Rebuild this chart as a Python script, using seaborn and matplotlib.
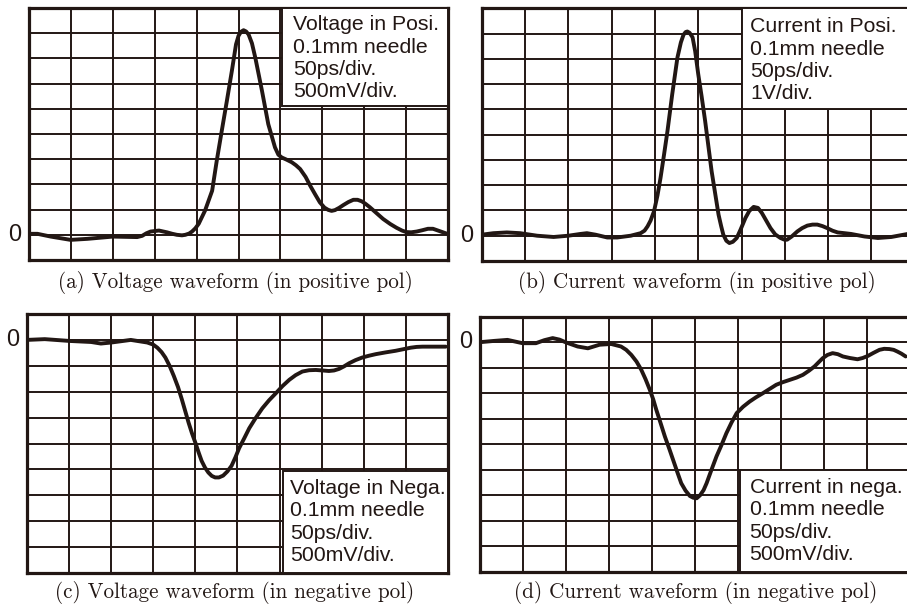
import matplotlib
matplotlib.use("Agg")
import matplotlib.pyplot as plt
from matplotlib.patches import Rectangle
import seaborn as sns

# Oscilloscope traces, in screen divisions (x: 50 ps/div)
a_x = [0.0, 0.2, 0.52, 0.99, 1.39, 2.0, 2.58, 2.7, 2.8, 2.9, 3.1, 3.29, 3.42, 3.53,
       3.65, 3.73, 3.82, 3.89, 3.97, 4.05, 4.2, 4.37, 4.48, 4.6, 4.72, 4.84, 4.94,
       5.0, 5.06, 5.12, 5.18, 5.24, 5.32, 5.4, 5.56, 5.71, 5.87, 5.95, 6.03, 6.15,
       6.27, 6.37, 6.47, 6.6, 6.71, 6.83, 6.94, 7.05, 7.14, 7.22, 7.3, 7.4, 7.5,
       7.62, 7.74, 7.84, 7.94, 8.03, 8.13, 8.3, 8.45, 8.62, 8.77, 8.9, 9.0, 9.12,
       9.25, 9.38, 9.52, 9.64, 9.76, 9.88, 9.98]
a_y = [0.04, 0.04, -0.07, -0.2, -0.16, -0.07, -0.09, -0.04, 0.06, 0.13, 0.17, 0.1,
       0.04, 0.0, -0.02, 0.0, 0.05, 0.13, 0.26, 0.44, 0.96, 1.75, 2.94, 4.13, 5.3,
       6.5, 7.56, 7.9, 8.06, 8.12, 8.07, 7.95, 7.6, 7.03, 5.71, 4.39, 3.47, 3.18,
       3.07, 2.98, 2.88, 2.76, 2.61, 2.3, 1.95, 1.6, 1.29, 1.08, 0.99, 0.95, 0.98,
       1.07, 1.18, 1.3, 1.39, 1.39, 1.33, 1.23, 1.1, 0.85, 0.63, 0.43, 0.28, 0.17,
       0.11, 0.1, 0.13, 0.18, 0.24, 0.24, 0.17, 0.1, 0.04]

b_x = [0.0, 0.27, 0.58, 0.89, 1.28, 1.66, 2.0, 2.28, 2.43, 2.63, 2.9, 3.13, 3.44,
       3.67, 3.76, 3.83, 3.9, 3.98, 4.06, 4.13, 4.21, 4.29, 4.4, 4.52, 4.6, 4.66,
       4.71, 4.75, 4.8, 4.87, 4.93, 5.0, 5.08, 5.16, 5.31, 5.47, 5.53, 5.58, 5.65,
       5.72, 5.8, 5.89, 5.98, 6.09, 6.18, 6.28, 6.38, 6.47, 6.57, 6.67, 6.78, 6.9,
       6.98, 7.05, 7.16, 7.29, 7.4, 7.52, 7.64, 7.75, 7.87, 7.98, 8.1, 8.22, 8.38,
       8.53, 8.84, 9.15, 9.46, 9.84]
b_y = [0.04, 0.1, 0.13, 0.1, 0.0, -0.05, 0.0, 0.07, 0.1, 0.04, -0.07, -0.07, 0.0,
       0.1, 0.2, 0.37, 0.6, 0.97, 1.6, 2.29, 3.2, 4.14, 5.6, 7.05, 7.65, 7.95, 8.06,
       8.08, 8.03, 7.85, 7.3, 6.4, 5.5, 4.54, 2.55, 0.83, 0.38, 0.04, -0.2, -0.29,
       -0.24, -0.09, 0.25, 0.7, 0.98, 1.14, 1.1, 0.9, 0.6, 0.3, 0.05, -0.09, -0.15,
       -0.16, -0.03, 0.17, 0.3, 0.4, 0.44, 0.44, 0.38, 0.3, 0.2, 0.13, 0.1, 0.07,
       -0.03, -0.09, -0.05, 0.07]

c_x = [0.0, 0.43, 1.02, 1.53, 1.76, 2.01, 2.47, 2.86, 3.0, 3.1, 3.2, 3.29, 3.39,
       3.49, 3.59, 3.68, 3.76, 3.84, 3.92, 4.0, 4.08, 4.15, 4.23, 4.31, 4.39, 4.47,
       4.56, 4.66, 4.76, 4.86, 4.95, 5.04, 5.16, 5.28, 5.43, 5.59, 5.75, 5.91,
       6.07, 6.23, 6.38, 6.54, 6.7, 6.86, 7.02, 7.17, 7.29, 7.41, 7.53, 7.65, 7.8,
       7.96, 8.12, 8.28, 8.52, 8.75, 8.93, 9.11, 9.25, 9.39, 9.94]
c_y = [0.0, 0.03, -0.04, -0.08, -0.14, -0.1, 0.0, -0.1, -0.18, -0.3, -0.47, -0.68,
       -1.0, -1.39, -1.82, -2.29, -2.74, -3.19, -3.6, -3.96, -4.35, -4.67, -4.93,
       -5.12, -5.25, -5.31, -5.31, -5.24, -5.08, -4.86, -4.54, -4.18, -3.8, -3.41,
       -3.02, -2.64, -2.33, -2.06, -1.78, -1.54, -1.36, -1.22, -1.17, -1.16,
       -1.18, -1.2, -1.18, -1.12, -1.02, -0.9, -0.78, -0.68, -0.61, -0.55, -0.48,
       -0.42, -0.36, -0.3, -0.27, -0.26, -0.26]

d_x = [0.0, 0.33, 0.64, 0.99, 1.3, 1.5, 1.69, 1.85, 2.0, 2.27, 2.51, 2.78, 3.05,
       3.28, 3.4, 3.52, 3.64, 3.75, 3.85, 3.95, 4.03, 4.1, 4.2, 4.3, 4.4, 4.49,
       4.59, 4.68, 4.78, 4.88, 4.96, 5.04, 5.12, 5.2, 5.27, 5.38, 5.5, 5.62, 5.73,
       5.85, 5.97, 6.12, 6.27, 6.42, 6.58, 6.74, 6.89, 7.04, 7.2, 7.36, 7.51,
       7.65, 7.78, 7.88, 7.97, 8.08, 8.2, 8.32, 8.44, 8.6, 8.78, 8.9, 9.02, 9.15,
       9.29, 9.4, 9.52, 9.62, 9.71, 9.8, 9.9]
d_y = [0.0, 0.05, 0.09, -0.04, -0.04, 0.08, 0.16, 0.1, -0.01, -0.17, -0.24, -0.1,
       -0.07, -0.17, -0.3, -0.5, -0.76, -1.08, -1.45, -1.87, -2.25, -2.65, -3.17,
       -3.7, -4.17, -4.61, -5.1, -5.53, -5.82, -6.03, -6.1, -6.12, -6.0, -5.8,
       -5.53, -5.02, -4.48, -4.02, -3.57, -3.15, -2.78, -2.53, -2.33, -2.16, -2.0,
       -1.83, -1.67, -1.57, -1.48, -1.39, -1.28, -1.12, -0.95, -0.78, -0.63, -0.5,
       -0.43, -0.47, -0.56, -0.62, -0.67, -0.62, -0.54, -0.42, -0.3, -0.26, -0.27,
       -0.3, -0.37, -0.45, -0.56]

a_note = ["Voltage in Posi.", "0.1mm needle", "50ps/div.", "500mV/div."]
b_note = ["Current in Posi.", "0.1mm needle", "50ps/div.", "1V/div."]
c_note = ["Voltage in Nega.", "0.1mm needle", "50ps/div.", "500mV/div."]
d_note = ["Current in nega.", "0.1mm needle", "50ps/div.", "500mV/div."]

captions = ["(a) Voltage waveform (in positive pol)",
            "(b) Current waveform (in positive pol)",
            "(c) Voltage waveform (in negative pol)",
            "(d) Current waveform (in negative pol)"]

INK = "#221714"

sns.set_style("white")
plt.rcParams["font.family"] = ["Liberation Sans", "DejaVu Sans"]

fig = plt.figure(figsize=(9.07, 6.04), dpi=100)

panels = [
    # axes rect, trace, y-limits, note, note box (x0, y0, y1),
    # first baseline (x, y) and line step of the note, all in divisions
    ([0.0320, 0.5695, 0.4620, 0.4172], a_x, a_y, (-1, 9), a_note,
     (6.04, 5.13, 9), (6.31, 8.11), 0.88),
    ([0.5311, 0.5679, 0.4774, 0.4184], b_x, b_y, (-1, 9), b_note,
     (6.0, 5.0, 9), (6.2, 8.05), 0.88),
    ([0.0294, 0.0513, 0.4648, 0.4288], c_x, c_y, (-9, 1), c_note,
     (6.07, -9, -5.08), (6.24, -5.96), 0.857),
    ([0.5292, 0.0535, 0.4741, 0.4222], d_x, d_y, (-9, 1), d_note,
     (6.05, -9, -5.0), (6.27, -5.9), 0.88),
]

for rect, xs, ys, ylim, note, box, base, step in panels:
    ax = fig.add_axes(rect)
    ax.set_xlim(0, 10)
    ax.set_ylim(*ylim)
    ax.set_xticks(range(0, 11))
    ax.set_yticks(range(ylim[0], ylim[1] + 1))
    ax.tick_params(length=0, labelbottom=False, labelleft=False)
    ax.grid(True, color=INK, linewidth=1.4)
    ax.set_axisbelow(True)
    for sp in ax.spines.values():
        sp.set_color(INK)
        sp.set_linewidth(2.3)
        sp.set_visible(True)

    sns.lineplot(x=xs, y=ys, ax=ax, color=INK, linewidth=2.8, sort=False,
                 zorder=4, solid_joinstyle="round", solid_capstyle="round")

    x0, y0, y1 = box
    ax.add_patch(Rectangle((x0, y0), 10 - x0, y1 - y0, facecolor="white",
                           edgecolor=INK, linewidth=1.4, zorder=3))
    for i, line in enumerate(note):
        ax.text(base[0], base[1] - i * step, line, ha="left", va="baseline",
                fontsize=15.3, color=INK, zorder=5)

    ax.text(-0.034, 0, "0", transform=ax.get_yaxis_transform(), ha="center",
            va="center", fontsize=17, color=INK, clip_on=False)

cap_pos = [(235, 282), (697, 282), (235, 593), (696, 593)]
for (px, py), cap in zip(cap_pos, captions):
    fig.text(px / 907, 1 - py / 604, cap, ha="center", va="center",
             fontsize=15.2, family="cmr10", color=INK)

fig.savefig("out.png", dpi=100, facecolor="white")
